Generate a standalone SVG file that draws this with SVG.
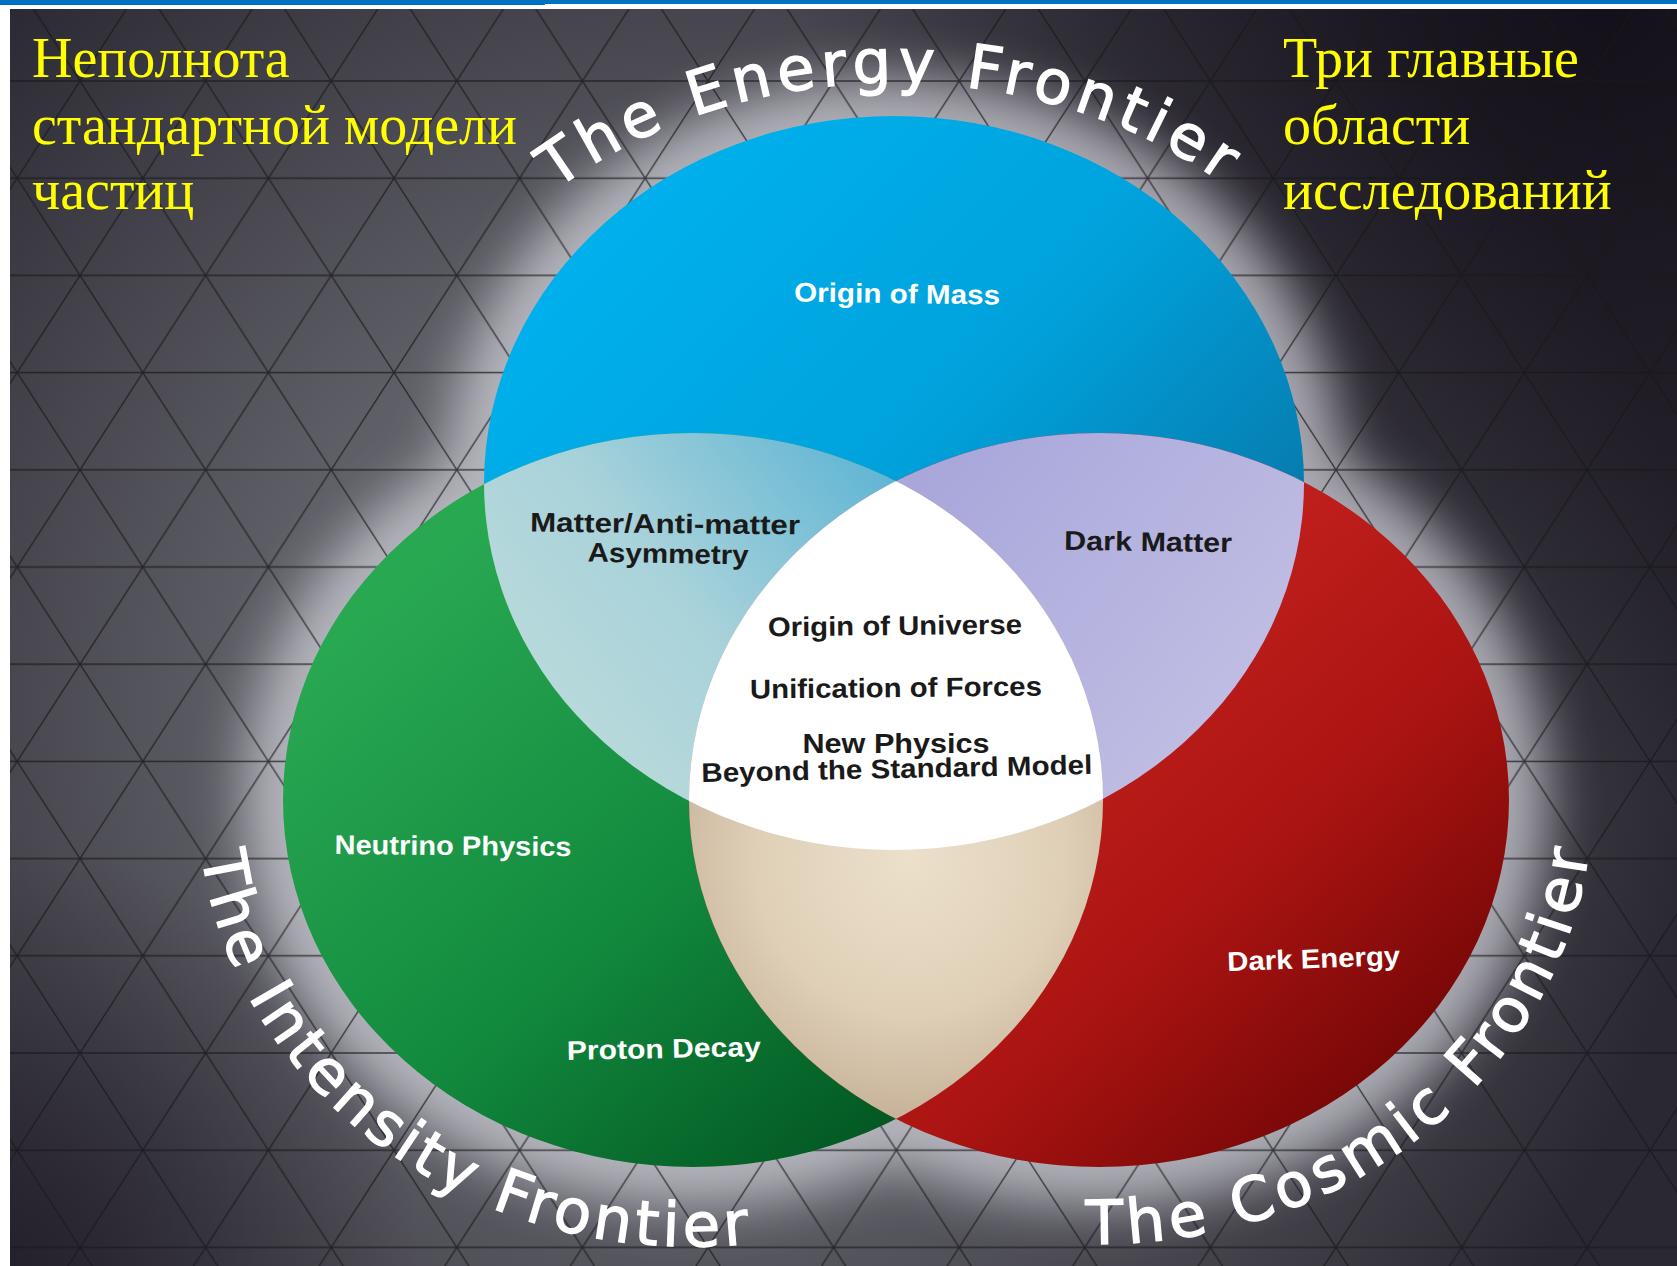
<svg xmlns="http://www.w3.org/2000/svg" width="1677" height="1266" viewBox="0 0 1677 1266">
<style>
.ru{font-family:"Liberation Serif","Times New Roman",serif;font-size:56px;fill:#ffff00}
.fr{font-family:"DejaVu Sans","Liberation Sans",sans-serif;font-size:61px;fill:#ffffff;stroke:#ffffff;stroke-width:1.3px;letter-spacing:5px}
.lb{font-family:"Liberation Sans",Arial,sans-serif;font-weight:bold;font-size:27px;text-anchor:middle}
.w{fill:#ffffff}
.d{fill:#1a1a1a}
</style>
<defs>
<radialGradient id="bgR" gradientUnits="userSpaceOnUse" cx="700" cy="720" r="1000">
<stop offset="0" stop-color="#6a6a72"/>
<stop offset="0.45" stop-color="#5e5e66"/>
<stop offset="0.8" stop-color="#3e3d45"/>
<stop offset="1" stop-color="#2a2832"/>
</radialGradient>
<radialGradient id="bgTR" gradientUnits="userSpaceOnUse" cx="1600" cy="0" r="800">
<stop offset="0" stop-color="#130f18" stop-opacity="0.95"/>
<stop offset="0.6" stop-color="#1a1620" stop-opacity="0.5"/>
<stop offset="1" stop-color="#1a1620" stop-opacity="0"/>
</radialGradient>
<radialGradient id="bgBL" gradientUnits="userSpaceOnUse" cx="0" cy="1266" r="420">
<stop offset="0" stop-color="#221e2a" stop-opacity="0.9"/>
<stop offset="1" stop-color="#221e2a" stop-opacity="0"/>
</radialGradient>
<pattern id="tri" patternUnits="userSpaceOnUse" x="80" y="81" width="125.6" height="194.4">
<path d="M0,0 L125.6,194.4 M125.6,0 L0,194.4 M0,0 H125.6 M0,97.2 H125.6 M0,194.4 H125.6" stroke="#17171b" stroke-width="1.4" fill="none"/>
</pattern>
<filter id="glow" x="-40%" y="-40%" width="180%" height="180%"><feGaussianBlur stdDeviation="26"/></filter>
<linearGradient id="gBlue" x1="0.1" y1="0.1" x2="1" y2="0.9">
<stop offset="0" stop-color="#00b2ee"/>
<stop offset="0.45" stop-color="#00a2dc"/>
<stop offset="0.75" stop-color="#0680b4"/>
<stop offset="1" stop-color="#0a5878"/>
</linearGradient>
<linearGradient id="gGreen" x1="0.15" y1="0.2" x2="0.85" y2="0.95">
<stop offset="0" stop-color="#29a852"/>
<stop offset="0.5" stop-color="#128a3e"/>
<stop offset="1" stop-color="#004f1e"/>
</linearGradient>
<linearGradient id="gRed" x1="0.2" y1="0.2" x2="1" y2="1">
<stop offset="0" stop-color="#d42a26"/>
<stop offset="0.55" stop-color="#aa1412"/>
<stop offset="1" stop-color="#580000"/>
</linearGradient>
<linearGradient id="gTeal" gradientUnits="userSpaceOnUse" x1="520" y1="760" x2="880" y2="470">
<stop offset="0" stop-color="#bedcdb"/>
<stop offset="0.5" stop-color="#a8d2da"/>
<stop offset="1" stop-color="#62b6d4"/>
</linearGradient>
<linearGradient id="gLav" gradientUnits="userSpaceOnUse" x1="900" y1="480" x2="1250" y2="760">
<stop offset="0" stop-color="#a8a6da"/>
<stop offset="1" stop-color="#c2c0e4"/>
</linearGradient>
<radialGradient id="gBeige" gradientUnits="userSpaceOnUse" cx="910" cy="860" r="260">
<stop offset="0" stop-color="#ece0cb"/>
<stop offset="0.6" stop-color="#dfcfb7"/>
<stop offset="1" stop-color="#c6b299"/>
</radialGradient>
<clipPath id="cB"><ellipse cx="894" cy="483" rx="410" ry="367"/></clipPath>
<clipPath id="cG"><ellipse cx="693" cy="800" rx="410" ry="367"/></clipPath>
<path id="pEnergy" d="M556,190 A496,400 0 0 1 1360,346"/>
<path id="pIntensity" d="M201.7,854.5 A495,447 0 0 0 1072,1087"/>
<path id="pCosmic" d="M1086.1,1243.8 A493,444 0 0 0 1476.7,514.6"/>
</defs>

<g id="frame">
<rect x="0" y="0" width="1677" height="1266" fill="#ffffff"/>
<rect x="0" y="0" width="545" height="5" fill="#0070c0"/>
<rect x="545" y="0" width="1132" height="4" fill="#0070c0"/>
</g>

<g id="background">
<rect x="10" y="9" width="1667" height="1257" fill="url(#bgR)"/>
<rect x="10" y="9" width="1667" height="1257" fill="url(#bgTR)"/>
<rect x="10" y="9" width="1667" height="1257" fill="url(#bgBL)"/>
<g filter="url(#glow)" fill="#d6d6de" opacity="0.72">
<ellipse cx="894" cy="483" rx="448" ry="405"/>
<ellipse cx="693" cy="800" rx="448" ry="405"/>
<ellipse cx="1099" cy="800" rx="448" ry="405"/>
</g>
<rect x="10" y="9" width="1667" height="1257" fill="url(#tri)" opacity="0.75"/>
</g>

<g id="energy-frontier">
<ellipse cx="894" cy="483" rx="410" ry="367" fill="url(#gBlue)"/>
<text class="fr" style="letter-spacing:6px"><textPath href="#pEnergy">The Energy Frontier</textPath></text>
</g>
<g id="intensity-frontier">
<ellipse cx="693" cy="800" rx="410" ry="367" fill="url(#gGreen)"/>
<text class="fr" style="letter-spacing:4.3px"><textPath href="#pIntensity">The Intensity Frontier</textPath></text>
</g>
<g id="cosmic-frontier">
<ellipse cx="1099" cy="800" rx="410" ry="367" fill="url(#gRed)"/>
<text class="fr"><textPath href="#pCosmic">The Cosmic Frontier</textPath></text>
</g>

<g id="energy-intensity">
<g clip-path="url(#cB)"><ellipse cx="693" cy="800" rx="410" ry="367" fill="url(#gTeal)"/></g>
</g>
<g id="energy-cosmic">
<g clip-path="url(#cB)"><ellipse cx="1099" cy="800" rx="410" ry="367" fill="url(#gLav)"/></g>
</g>
<g id="intensity-cosmic">
<g clip-path="url(#cG)"><ellipse cx="1099" cy="800" rx="410" ry="367" fill="url(#gBeige)"/></g>
</g>
<g id="center">
<g clip-path="url(#cB)"><g clip-path="url(#cG)"><ellipse cx="1099" cy="800" rx="410" ry="367" fill="#ffffff"/></g></g>
</g>

<g id="labels">
<text class="lb w" x="897" y="303" textLength="206" lengthAdjust="spacingAndGlyphs" transform="rotate(0.8 897 303)">Origin of Mass</text>
<text class="lb d" x="665" y="533" textLength="270" lengthAdjust="spacingAndGlyphs" transform="rotate(0.6 665 533)">Matter/Anti-matter</text>
<text class="lb d" x="668" y="563" textLength="161" lengthAdjust="spacingAndGlyphs" transform="rotate(1 668 563)">Asymmetry</text>
<text class="lb d" x="1148" y="551" textLength="168" lengthAdjust="spacingAndGlyphs" transform="rotate(0.8 1148 551)">Dark Matter</text>
<text class="lb d" x="895" y="635" textLength="254" lengthAdjust="spacingAndGlyphs" transform="rotate(-0.6 895 635)">Origin of Universe</text>
<text class="lb d" x="896" y="697" textLength="292" lengthAdjust="spacingAndGlyphs" transform="rotate(-0.6 896 697)">Unification of Forces</text>
<text class="lb d" x="896" y="753" textLength="187" lengthAdjust="spacingAndGlyphs">New Physics</text>
<text class="lb d" x="897" y="778" textLength="391" lengthAdjust="spacingAndGlyphs" transform="rotate(-1.2 897 778)">Beyond the Standard Model</text>
<text class="lb w" x="453" y="855" textLength="237" lengthAdjust="spacingAndGlyphs" transform="rotate(0.5 453 855)">Neutrino Physics</text>
<text class="lb w" x="664" y="1058" textLength="194" lengthAdjust="spacingAndGlyphs" transform="rotate(-1.2 664 1058)">Proton Decay</text>
<text class="lb w" x="1314" y="968" textLength="173" lengthAdjust="spacingAndGlyphs" transform="rotate(-2 1314 968)">Dark Energy</text>
</g>

<g id="title-left">
<text class="ru" x="32" y="77">Неполнота</text>
<text class="ru" x="32" y="144">стандартной  модели</text>
<text class="ru" x="32" y="209">частиц</text>
</g>
<g id="title-right">
<text class="ru" x="1283" y="77">Три главные</text>
<text class="ru" x="1283" y="144">области</text>
<text class="ru" x="1283" y="209">исследований</text>
</g>
<g id="connectors"/>
</svg>
